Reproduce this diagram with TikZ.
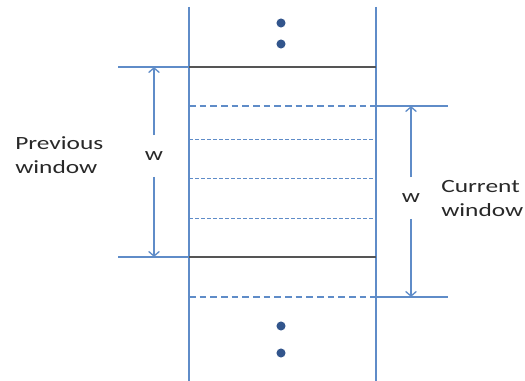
\documentclass[tikz,border=0pt]{standalone}
\usepackage{fontspec}
\setmainfont{Carlito}[FakeStretch=1.36]
\usetikzlibrary{arrows.meta, positioning}
\definecolor{winblue}{RGB}{95, 140, 200}
\definecolor{dotblue}{RGB}{50, 85, 140}
\definecolor{edgegray}{RGB}{85, 85, 85}
\definecolor{textgray}{RGB}{40, 40, 40}

\tikzset{
  rail/.style={winblue, line width=1.5pt},
  bound/.style={edgegray, line width=1.2pt},
  tick/.style={winblue, line width=1pt},
  edge/.style={winblue, line width=1.1pt, dash pattern=on 5pt off 3pt},
  slot/.style={winblue, line width=0.7pt, dash pattern=on 3pt off 1.5pt},
  span/.style={winblue, line width=1pt, -{Straight Barb[length=3.5pt, width=8pt]}},
  wlbl/.style={font=\fontsize{14}{18}\selectfont, text=textgray, inner sep=0pt, minimum height=31pt},
  lbl/.style={font=\fontsize{14}{18}\selectfont, text=textgray, inner sep=0pt, align=left},
}

\begin{document}
\begin{tikzpicture}[x=0.75pt, y=-0.75pt]
  \useasboundingbox (0,0) rectangle (525,381);

  % rails of the buffer
  \draw[rail] (189,7) -- (189,381);
  \draw[rail] (376,7) -- (376,381);

  % dots above and below
  \foreach \y in {23,44,326,353} {
    \fill[dotblue] (281,\y) circle (3.4pt);
  }

  % previous window bounds
  \foreach \y/\n in {67/ptop, 257/pbot} {
    \coordinate (\n-l) at (118,\y);
    \coordinate (\n-a) at (189,\y);
    \coordinate (\n-b) at (376,\y);
    \draw[tick] (\n-l) -- (\n-a);
    \draw[bound] (\n-a) -- (\n-b);
  }

  % current window bounds
  \foreach \y/\n in {106/ctop, 297/cbot} {
    \coordinate (\n-a) at (189,\y);
    \coordinate (\n-b) at (376,\y);
    \coordinate (\n-r) at (448,\y);
    \draw[edge] (\n-a) -- (\n-b);
    \draw[tick] (\n-b) -- (\n-r);
  }

  % slots in between
  \foreach \y in {139,178,218} {
    \draw[slot] (189,\y) -- (376,\y);
  }

  % window widths
  \coordinate (pt) at (154,67);
  \coordinate (pb) at (154,257);
  \node[wlbl] (wprev) at (154,156) {w};
  \draw[span] (wprev) -- (pt);
  \draw[span] (wprev) -- (pb);

  \coordinate (ct) at (411,106);
  \coordinate (cb) at (411,297);
  \node[wlbl] (wcur) at (411,198) {w};
  \draw[span] (wcur) -- (ct);
  \draw[span] (wcur) -- (cb);

  % labels
  \node[lbl, anchor=west] (prev) at (15,155) {Previous\\window};
  \node[lbl, anchor=west] (cur) at (441,199) {Current\\window};
\end{tikzpicture}
\end{document}
